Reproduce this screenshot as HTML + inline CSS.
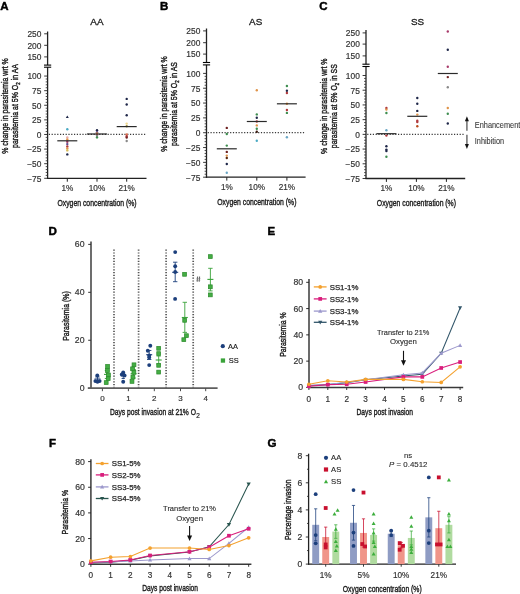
<!DOCTYPE html>
<html><head><meta charset="utf-8"><title>Figure</title>
<style>
html,body{margin:0;padding:0;background:#fff;}
body{width:520px;height:594px;overflow:hidden;}
svg{display:block;font-family:"Liberation Sans", sans-serif;will-change:transform;}
text{stroke-linejoin:round;}
</style></head><body>
<svg width="520" height="594" viewBox="0 0 520 594">
<rect x="0" y="0" width="520" height="594" fill="#fff"/>
<text x="0.3" y="10.3" font-size="11.5" fill="#000" stroke="#000" stroke-width="0.45" font-weight="bold">A</text>
<text x="96.9" y="25.4" font-size="9.9" fill="#1a1a1a" stroke="#1a1a1a" stroke-width="0.3" text-anchor="middle">AA</text>
<line x1="47.6" y1="31.5" x2="47.6" y2="65.1" stroke="#222" stroke-width="1.3"/>
<line x1="47.6" y1="67.2" x2="47.6" y2="178.9" stroke="#222" stroke-width="1.3"/>
<line x1="44" y1="65.1" x2="51.2" y2="65.1" stroke="#000" stroke-width="1.1"/>
<line x1="44" y1="67.2" x2="51.2" y2="67.2" stroke="#000" stroke-width="1.1"/>
<line x1="44.2" y1="33.8" x2="47.6" y2="33.8" stroke="#222" stroke-width="0.9"/>
<text x="41.4" y="37" font-size="8.4" fill="#333" stroke="#333" stroke-width="0.18" text-anchor="end">250</text>
<line x1="44.2" y1="45.3" x2="47.6" y2="45.3" stroke="#222" stroke-width="0.9"/>
<text x="41.4" y="48.5" font-size="8.4" fill="#333" stroke="#333" stroke-width="0.18" text-anchor="end">200</text>
<line x1="44.2" y1="56.9" x2="47.6" y2="56.9" stroke="#222" stroke-width="0.9"/>
<text x="41.4" y="60.1" font-size="8.4" fill="#333" stroke="#333" stroke-width="0.18" text-anchor="end">150</text>
<line x1="44.2" y1="76.05" x2="47.6" y2="76.05" stroke="#222" stroke-width="0.9"/>
<text x="41.4" y="79.35" font-size="8.4" fill="#333" stroke="#333" stroke-width="0.18" text-anchor="end">100</text>
<line x1="44.2" y1="90.66" x2="47.6" y2="90.66" stroke="#222" stroke-width="0.9"/>
<text x="41.4" y="93.96" font-size="8.4" fill="#333" stroke="#333" stroke-width="0.18" text-anchor="end">75</text>
<line x1="44.2" y1="105.26" x2="47.6" y2="105.26" stroke="#222" stroke-width="0.9"/>
<text x="41.4" y="108.56" font-size="8.4" fill="#333" stroke="#333" stroke-width="0.18" text-anchor="end">50</text>
<line x1="44.2" y1="119.87" x2="47.6" y2="119.87" stroke="#222" stroke-width="0.9"/>
<text x="41.4" y="123.17" font-size="8.4" fill="#333" stroke="#333" stroke-width="0.18" text-anchor="end">25</text>
<line x1="44.2" y1="134.48" x2="47.6" y2="134.48" stroke="#222" stroke-width="0.9"/>
<text x="41.4" y="137.78" font-size="8.4" fill="#333" stroke="#333" stroke-width="0.18" text-anchor="end">0</text>
<line x1="44.2" y1="149.09" x2="47.6" y2="149.09" stroke="#222" stroke-width="0.9"/>
<text x="41.4" y="152.39" font-size="8.4" fill="#333" stroke="#333" stroke-width="0.18" text-anchor="end">−25</text>
<line x1="44.2" y1="163.69" x2="47.6" y2="163.69" stroke="#222" stroke-width="0.9"/>
<text x="41.4" y="166.99" font-size="8.4" fill="#333" stroke="#333" stroke-width="0.18" text-anchor="end">−50</text>
<line x1="44.2" y1="178.3" x2="47.6" y2="178.3" stroke="#222" stroke-width="0.9"/>
<text x="41.4" y="181.6" font-size="8.4" fill="#333" stroke="#333" stroke-width="0.18" text-anchor="end">−75</text>
<line x1="45.7" y1="78.97" x2="47.6" y2="78.97" stroke="#333" stroke-width="0.85"/>
<line x1="45.7" y1="81.89" x2="47.6" y2="81.89" stroke="#333" stroke-width="0.85"/>
<line x1="45.7" y1="84.81" x2="47.6" y2="84.81" stroke="#333" stroke-width="0.85"/>
<line x1="45.7" y1="87.74" x2="47.6" y2="87.74" stroke="#333" stroke-width="0.85"/>
<line x1="45.7" y1="93.58" x2="47.6" y2="93.58" stroke="#333" stroke-width="0.85"/>
<line x1="45.7" y1="96.5" x2="47.6" y2="96.5" stroke="#333" stroke-width="0.85"/>
<line x1="45.7" y1="99.42" x2="47.6" y2="99.42" stroke="#333" stroke-width="0.85"/>
<line x1="45.7" y1="102.34" x2="47.6" y2="102.34" stroke="#333" stroke-width="0.85"/>
<line x1="45.7" y1="108.19" x2="47.6" y2="108.19" stroke="#333" stroke-width="0.85"/>
<line x1="45.7" y1="111.11" x2="47.6" y2="111.11" stroke="#333" stroke-width="0.85"/>
<line x1="45.7" y1="114.03" x2="47.6" y2="114.03" stroke="#333" stroke-width="0.85"/>
<line x1="45.7" y1="116.95" x2="47.6" y2="116.95" stroke="#333" stroke-width="0.85"/>
<line x1="45.7" y1="122.79" x2="47.6" y2="122.79" stroke="#333" stroke-width="0.85"/>
<line x1="45.7" y1="125.71" x2="47.6" y2="125.71" stroke="#333" stroke-width="0.85"/>
<line x1="45.7" y1="128.64" x2="47.6" y2="128.64" stroke="#333" stroke-width="0.85"/>
<line x1="45.7" y1="131.56" x2="47.6" y2="131.56" stroke="#333" stroke-width="0.85"/>
<line x1="45.7" y1="137.4" x2="47.6" y2="137.4" stroke="#333" stroke-width="0.85"/>
<line x1="45.7" y1="140.32" x2="47.6" y2="140.32" stroke="#333" stroke-width="0.85"/>
<line x1="45.7" y1="143.24" x2="47.6" y2="143.24" stroke="#333" stroke-width="0.85"/>
<line x1="45.7" y1="146.16" x2="47.6" y2="146.16" stroke="#333" stroke-width="0.85"/>
<line x1="45.7" y1="152.01" x2="47.6" y2="152.01" stroke="#333" stroke-width="0.85"/>
<line x1="45.7" y1="154.93" x2="47.6" y2="154.93" stroke="#333" stroke-width="0.85"/>
<line x1="45.7" y1="157.85" x2="47.6" y2="157.85" stroke="#333" stroke-width="0.85"/>
<line x1="45.7" y1="160.77" x2="47.6" y2="160.77" stroke="#333" stroke-width="0.85"/>
<line x1="45.7" y1="166.61" x2="47.6" y2="166.61" stroke="#333" stroke-width="0.85"/>
<line x1="45.7" y1="169.54" x2="47.6" y2="169.54" stroke="#333" stroke-width="0.85"/>
<line x1="45.7" y1="172.46" x2="47.6" y2="172.46" stroke="#333" stroke-width="0.85"/>
<line x1="45.7" y1="175.38" x2="47.6" y2="175.38" stroke="#333" stroke-width="0.85"/>
<line x1="47" y1="178.3" x2="146.5" y2="178.3" stroke="#222" stroke-width="1.3"/>
<line x1="67.3" y1="178.3" x2="67.3" y2="181.7" stroke="#222" stroke-width="1"/>
<text x="67.3" y="191.2" font-size="8.2" fill="#333" stroke="#333" stroke-width="0.18" text-anchor="middle">1%</text>
<line x1="97" y1="178.3" x2="97" y2="181.7" stroke="#222" stroke-width="1"/>
<text x="97" y="191.2" font-size="8.2" fill="#333" stroke="#333" stroke-width="0.18" text-anchor="middle">10%</text>
<line x1="126.7" y1="178.3" x2="126.7" y2="181.7" stroke="#222" stroke-width="1"/>
<text x="126.7" y="191.2" font-size="8.2" fill="#333" stroke="#333" stroke-width="0.18" text-anchor="middle">21%</text>
<text x="97" y="205.9" font-size="9.8" fill="#1a1a1a" stroke="#1a1a1a" stroke-width="0.4" text-anchor="middle" textLength="79.2" lengthAdjust="spacingAndGlyphs">Oxygen concentration (%)</text>
<line x1="48.8" y1="134.48" x2="146.5" y2="134.48" stroke="#3a3a3a" stroke-width="1.25" stroke-dasharray="1.2,1.6"/>
<text transform="translate(7.9,106) rotate(-90)" x="0" y="0" font-size="9.9" fill="#1a1a1a" stroke="#1a1a1a" stroke-width="0.42" text-anchor="middle" textLength="95.5" lengthAdjust="spacingAndGlyphs">% change in parasitemia wrt %</text>
<text transform="translate(17.9,106) rotate(-90)" x="0" y="0" font-size="9.9" fill="#1a1a1a" stroke="#1a1a1a" stroke-width="0.42" text-anchor="middle" textLength="84" lengthAdjust="spacingAndGlyphs">parasitemia at 5% O<tspan font-size="6.2" dy="2">2</tspan><tspan dy="-2"> in AA</tspan></text>
<polygon points="65.8,118.03 68.8,118.03 67.3,115.4" fill="#1e2648"/>
<circle cx="67.3" cy="129.2" r="1.2" fill="#4aaac4"/>
<circle cx="67.3" cy="137.4" r="1.2" fill="#e8a8a8"/>
<circle cx="67.3" cy="139.5" r="1.2" fill="#e0944a"/>
<circle cx="67.3" cy="141.7" r="1.2" fill="#a83a6a"/>
<circle cx="67.3" cy="144.1" r="1.2" fill="#5e4a8a"/>
<circle cx="67.3" cy="146.5" r="1.2" fill="#b03a3e"/>
<circle cx="67.3" cy="148.5" r="1.2" fill="#e0944a"/>
<circle cx="67.3" cy="150.4" r="1.2" fill="#d8bc58"/>
<circle cx="67.3" cy="154.4" r="1.2" fill="#1e2648"/>
<circle cx="97" cy="130.3" r="1.2" fill="#1e2648"/>
<circle cx="97" cy="132.3" r="1.2" fill="#5e4a8a"/>
<circle cx="97" cy="133.4" r="1.2" fill="#e0944a"/>
<circle cx="97" cy="134.6" r="1.2" fill="#b03a3e"/>
<circle cx="97" cy="135.8" r="1.2" fill="#8a8a8a"/>
<circle cx="97" cy="137.4" r="1.2" fill="#3e8e50"/>
<circle cx="126.7" cy="98.9" r="1.2" fill="#1e2648"/>
<circle cx="126.7" cy="104.5" r="1.2" fill="#1e2648"/>
<circle cx="126.7" cy="115.3" r="1.2" fill="#1e2648"/>
<circle cx="126.7" cy="123.6" r="1.2" fill="#f0d890"/>
<circle cx="126.7" cy="126.2" r="1.2" fill="#a09040"/>
<circle cx="126.7" cy="134.5" r="1.2" fill="#e07050"/>
<circle cx="126.7" cy="136.2" r="1.2" fill="#b03a3e"/>
<circle cx="126.7" cy="137.6" r="1.2" fill="#6e2222"/>
<circle cx="126.7" cy="141" r="1.2" fill="#8a8a8a"/>
<line x1="57.3" y1="140.8" x2="77.3" y2="140.8" stroke="#2a2a2a" stroke-width="1.2"/>
<line x1="87" y1="134" x2="107" y2="134" stroke="#2a2a2a" stroke-width="1.2"/>
<line x1="116.7" y1="126.6" x2="136.7" y2="126.6" stroke="#2a2a2a" stroke-width="1.2"/>
<text x="159.9" y="10.4" font-size="11.5" fill="#000" stroke="#000" stroke-width="0.45" font-weight="bold">B</text>
<text x="255.7" y="25" font-size="9.9" fill="#1a1a1a" stroke="#1a1a1a" stroke-width="0.3" text-anchor="middle">AS</text>
<line x1="206.5" y1="28.5" x2="206.5" y2="62.5" stroke="#222" stroke-width="1.3"/>
<line x1="206.5" y1="64.9" x2="206.5" y2="177.8" stroke="#222" stroke-width="1.3"/>
<line x1="202.9" y1="62.5" x2="210.1" y2="62.5" stroke="#000" stroke-width="1.1"/>
<line x1="202.9" y1="64.9" x2="210.1" y2="64.9" stroke="#000" stroke-width="1.1"/>
<line x1="203.1" y1="30.9" x2="206.5" y2="30.9" stroke="#222" stroke-width="0.9"/>
<text x="200.3" y="34.1" font-size="8.4" fill="#333" stroke="#333" stroke-width="0.18" text-anchor="end">250</text>
<line x1="203.1" y1="42.7" x2="206.5" y2="42.7" stroke="#222" stroke-width="0.9"/>
<text x="200.3" y="45.9" font-size="8.4" fill="#333" stroke="#333" stroke-width="0.18" text-anchor="end">200</text>
<line x1="203.1" y1="54.1" x2="206.5" y2="54.1" stroke="#222" stroke-width="0.9"/>
<text x="200.3" y="57.3" font-size="8.4" fill="#333" stroke="#333" stroke-width="0.18" text-anchor="end">150</text>
<line x1="203.1" y1="73.4" x2="206.5" y2="73.4" stroke="#222" stroke-width="0.9"/>
<text x="200.3" y="76.7" font-size="8.4" fill="#333" stroke="#333" stroke-width="0.18" text-anchor="end">100</text>
<line x1="203.1" y1="88.23" x2="206.5" y2="88.23" stroke="#222" stroke-width="0.9"/>
<text x="200.3" y="91.53" font-size="8.4" fill="#333" stroke="#333" stroke-width="0.18" text-anchor="end">75</text>
<line x1="203.1" y1="103.06" x2="206.5" y2="103.06" stroke="#222" stroke-width="0.9"/>
<text x="200.3" y="106.36" font-size="8.4" fill="#333" stroke="#333" stroke-width="0.18" text-anchor="end">50</text>
<line x1="203.1" y1="117.89" x2="206.5" y2="117.89" stroke="#222" stroke-width="0.9"/>
<text x="200.3" y="121.19" font-size="8.4" fill="#333" stroke="#333" stroke-width="0.18" text-anchor="end">25</text>
<line x1="203.1" y1="132.71" x2="206.5" y2="132.71" stroke="#222" stroke-width="0.9"/>
<text x="200.3" y="136.01" font-size="8.4" fill="#333" stroke="#333" stroke-width="0.18" text-anchor="end">0</text>
<line x1="203.1" y1="147.54" x2="206.5" y2="147.54" stroke="#222" stroke-width="0.9"/>
<text x="200.3" y="150.84" font-size="8.4" fill="#333" stroke="#333" stroke-width="0.18" text-anchor="end">−25</text>
<line x1="203.1" y1="162.37" x2="206.5" y2="162.37" stroke="#222" stroke-width="0.9"/>
<text x="200.3" y="165.67" font-size="8.4" fill="#333" stroke="#333" stroke-width="0.18" text-anchor="end">−50</text>
<line x1="203.1" y1="177.2" x2="206.5" y2="177.2" stroke="#222" stroke-width="0.9"/>
<text x="200.3" y="180.5" font-size="8.4" fill="#333" stroke="#333" stroke-width="0.18" text-anchor="end">−75</text>
<line x1="204.6" y1="76.37" x2="206.5" y2="76.37" stroke="#333" stroke-width="0.85"/>
<line x1="204.6" y1="79.33" x2="206.5" y2="79.33" stroke="#333" stroke-width="0.85"/>
<line x1="204.6" y1="82.3" x2="206.5" y2="82.3" stroke="#333" stroke-width="0.85"/>
<line x1="204.6" y1="85.26" x2="206.5" y2="85.26" stroke="#333" stroke-width="0.85"/>
<line x1="204.6" y1="91.19" x2="206.5" y2="91.19" stroke="#333" stroke-width="0.85"/>
<line x1="204.6" y1="94.16" x2="206.5" y2="94.16" stroke="#333" stroke-width="0.85"/>
<line x1="204.6" y1="97.13" x2="206.5" y2="97.13" stroke="#333" stroke-width="0.85"/>
<line x1="204.6" y1="100.09" x2="206.5" y2="100.09" stroke="#333" stroke-width="0.85"/>
<line x1="204.6" y1="106.02" x2="206.5" y2="106.02" stroke="#333" stroke-width="0.85"/>
<line x1="204.6" y1="108.99" x2="206.5" y2="108.99" stroke="#333" stroke-width="0.85"/>
<line x1="204.6" y1="111.95" x2="206.5" y2="111.95" stroke="#333" stroke-width="0.85"/>
<line x1="204.6" y1="114.92" x2="206.5" y2="114.92" stroke="#333" stroke-width="0.85"/>
<line x1="204.6" y1="120.85" x2="206.5" y2="120.85" stroke="#333" stroke-width="0.85"/>
<line x1="204.6" y1="123.82" x2="206.5" y2="123.82" stroke="#333" stroke-width="0.85"/>
<line x1="204.6" y1="126.78" x2="206.5" y2="126.78" stroke="#333" stroke-width="0.85"/>
<line x1="204.6" y1="129.75" x2="206.5" y2="129.75" stroke="#333" stroke-width="0.85"/>
<line x1="204.6" y1="135.68" x2="206.5" y2="135.68" stroke="#333" stroke-width="0.85"/>
<line x1="204.6" y1="138.65" x2="206.5" y2="138.65" stroke="#333" stroke-width="0.85"/>
<line x1="204.6" y1="141.61" x2="206.5" y2="141.61" stroke="#333" stroke-width="0.85"/>
<line x1="204.6" y1="144.58" x2="206.5" y2="144.58" stroke="#333" stroke-width="0.85"/>
<line x1="204.6" y1="150.51" x2="206.5" y2="150.51" stroke="#333" stroke-width="0.85"/>
<line x1="204.6" y1="153.47" x2="206.5" y2="153.47" stroke="#333" stroke-width="0.85"/>
<line x1="204.6" y1="156.44" x2="206.5" y2="156.44" stroke="#333" stroke-width="0.85"/>
<line x1="204.6" y1="159.41" x2="206.5" y2="159.41" stroke="#333" stroke-width="0.85"/>
<line x1="204.6" y1="165.34" x2="206.5" y2="165.34" stroke="#333" stroke-width="0.85"/>
<line x1="204.6" y1="168.3" x2="206.5" y2="168.3" stroke="#333" stroke-width="0.85"/>
<line x1="204.6" y1="171.27" x2="206.5" y2="171.27" stroke="#333" stroke-width="0.85"/>
<line x1="204.6" y1="174.23" x2="206.5" y2="174.23" stroke="#333" stroke-width="0.85"/>
<line x1="205.9" y1="177.2" x2="305.6" y2="177.2" stroke="#222" stroke-width="1.3"/>
<line x1="226.8" y1="177.2" x2="226.8" y2="180.6" stroke="#222" stroke-width="1"/>
<text x="226.8" y="190.1" font-size="8.2" fill="#333" stroke="#333" stroke-width="0.18" text-anchor="middle">1%</text>
<line x1="256.8" y1="177.2" x2="256.8" y2="180.6" stroke="#222" stroke-width="1"/>
<text x="256.8" y="190.1" font-size="8.2" fill="#333" stroke="#333" stroke-width="0.18" text-anchor="middle">10%</text>
<line x1="286.9" y1="177.2" x2="286.9" y2="180.6" stroke="#222" stroke-width="1"/>
<text x="286.9" y="190.1" font-size="8.2" fill="#333" stroke="#333" stroke-width="0.18" text-anchor="middle">21%</text>
<text x="256.85" y="204.8" font-size="9.8" fill="#1a1a1a" stroke="#1a1a1a" stroke-width="0.4" text-anchor="middle" textLength="79.2" lengthAdjust="spacingAndGlyphs">Oxygen concentration (%)</text>
<line x1="207.7" y1="132.71" x2="305.6" y2="132.71" stroke="#3a3a3a" stroke-width="1.25" stroke-dasharray="1.2,1.6"/>
<text transform="translate(167.3,104) rotate(-90)" x="0" y="0" font-size="9.9" fill="#1a1a1a" stroke="#1a1a1a" stroke-width="0.42" text-anchor="middle" textLength="95.5" lengthAdjust="spacingAndGlyphs">% change in parasitemia wrt %</text>
<text transform="translate(177.4,104) rotate(-90)" x="0" y="0" font-size="9.9" fill="#1a1a1a" stroke="#1a1a1a" stroke-width="0.42" text-anchor="middle" textLength="84" lengthAdjust="spacingAndGlyphs">parasitemia at 5% O<tspan font-size="6.2" dy="2">2</tspan><tspan dy="-2"> in AS</tspan></text>
<circle cx="226.8" cy="127.9" r="1.2" fill="#6e2222"/>
<circle cx="226.8" cy="134" r="1.2" fill="#3e8e50"/>
<circle cx="226.8" cy="145.6" r="1.2" fill="#3e8e50"/>
<circle cx="226.8" cy="151.9" r="1.2" fill="#6e2222"/>
<circle cx="226.8" cy="155.6" r="1.2" fill="#e0944a"/>
<circle cx="226.8" cy="158" r="1.2" fill="#5a2a10"/>
<circle cx="226.8" cy="164" r="1.2" fill="#1e2648"/>
<circle cx="226.8" cy="172.7" r="1.2" fill="#6aa6c4"/>
<circle cx="256.8" cy="90.2" r="1.2" fill="#e0944a"/>
<circle cx="256.8" cy="114.4" r="1.2" fill="#3e8e50"/>
<circle cx="256.8" cy="117.7" r="1.2" fill="#1e2648"/>
<circle cx="256.8" cy="121.5" r="1.2" fill="#b03a3e"/>
<circle cx="256.8" cy="125.4" r="1.2" fill="#e0944a"/>
<circle cx="256.8" cy="128.8" r="1.2" fill="#3e8e50"/>
<circle cx="256.8" cy="131.7" r="1.2" fill="#3a1a10"/>
<circle cx="256.8" cy="140.8" r="1.2" fill="#4aaac4"/>
<circle cx="286.9" cy="86" r="1.2" fill="#3e8e50"/>
<circle cx="286.9" cy="90.8" r="1.2" fill="#1e2648"/>
<circle cx="286.9" cy="93" r="1.2" fill="#b03a3e"/>
<circle cx="286.9" cy="103.8" r="1.2" fill="#e0944a"/>
<circle cx="286.9" cy="110" r="1.2" fill="#b03a3e"/>
<circle cx="286.9" cy="112.9" r="1.2" fill="#3e8e50"/>
<circle cx="286.9" cy="137.3" r="1.2" fill="#6aa6c4"/>
<line x1="216.8" y1="148.8" x2="236.8" y2="148.8" stroke="#2a2a2a" stroke-width="1.2"/>
<line x1="246.8" y1="121.5" x2="266.8" y2="121.5" stroke="#2a2a2a" stroke-width="1.2"/>
<line x1="276.9" y1="103.8" x2="296.9" y2="103.8" stroke="#2a2a2a" stroke-width="1.2"/>
<text x="319.2" y="10.4" font-size="11.5" fill="#000" stroke="#000" stroke-width="0.45" font-weight="bold">C</text>
<text x="417.5" y="25" font-size="9.9" fill="#1a1a1a" stroke="#1a1a1a" stroke-width="0.3" text-anchor="middle">SS</text>
<line x1="366" y1="30" x2="366" y2="64.2" stroke="#222" stroke-width="1.3"/>
<line x1="366" y1="66.5" x2="366" y2="179.1" stroke="#222" stroke-width="1.3"/>
<line x1="362.4" y1="64.2" x2="369.6" y2="64.2" stroke="#000" stroke-width="1.1"/>
<line x1="362.4" y1="66.5" x2="369.6" y2="66.5" stroke="#000" stroke-width="1.1"/>
<line x1="362.6" y1="32.9" x2="366" y2="32.9" stroke="#222" stroke-width="0.9"/>
<text x="359.8" y="36.1" font-size="8.4" fill="#333" stroke="#333" stroke-width="0.18" text-anchor="end">250</text>
<line x1="362.6" y1="44.1" x2="366" y2="44.1" stroke="#222" stroke-width="0.9"/>
<text x="359.8" y="47.3" font-size="8.4" fill="#333" stroke="#333" stroke-width="0.18" text-anchor="end">200</text>
<line x1="362.6" y1="55.9" x2="366" y2="55.9" stroke="#222" stroke-width="0.9"/>
<text x="359.8" y="59.1" font-size="8.4" fill="#333" stroke="#333" stroke-width="0.18" text-anchor="end">150</text>
<line x1="362.6" y1="75.5" x2="366" y2="75.5" stroke="#222" stroke-width="0.9"/>
<text x="359.8" y="78.8" font-size="8.4" fill="#333" stroke="#333" stroke-width="0.18" text-anchor="end">100</text>
<line x1="362.6" y1="90.21" x2="366" y2="90.21" stroke="#222" stroke-width="0.9"/>
<text x="359.8" y="93.51" font-size="8.4" fill="#333" stroke="#333" stroke-width="0.18" text-anchor="end">75</text>
<line x1="362.6" y1="104.93" x2="366" y2="104.93" stroke="#222" stroke-width="0.9"/>
<text x="359.8" y="108.23" font-size="8.4" fill="#333" stroke="#333" stroke-width="0.18" text-anchor="end">50</text>
<line x1="362.6" y1="119.64" x2="366" y2="119.64" stroke="#222" stroke-width="0.9"/>
<text x="359.8" y="122.94" font-size="8.4" fill="#333" stroke="#333" stroke-width="0.18" text-anchor="end">25</text>
<line x1="362.6" y1="134.36" x2="366" y2="134.36" stroke="#222" stroke-width="0.9"/>
<text x="359.8" y="137.66" font-size="8.4" fill="#333" stroke="#333" stroke-width="0.18" text-anchor="end">0</text>
<line x1="362.6" y1="149.07" x2="366" y2="149.07" stroke="#222" stroke-width="0.9"/>
<text x="359.8" y="152.37" font-size="8.4" fill="#333" stroke="#333" stroke-width="0.18" text-anchor="end">−25</text>
<line x1="362.6" y1="163.79" x2="366" y2="163.79" stroke="#222" stroke-width="0.9"/>
<text x="359.8" y="167.09" font-size="8.4" fill="#333" stroke="#333" stroke-width="0.18" text-anchor="end">−50</text>
<line x1="362.6" y1="178.5" x2="366" y2="178.5" stroke="#222" stroke-width="0.9"/>
<text x="359.8" y="181.8" font-size="8.4" fill="#333" stroke="#333" stroke-width="0.18" text-anchor="end">−75</text>
<line x1="364.1" y1="78.44" x2="366" y2="78.44" stroke="#333" stroke-width="0.85"/>
<line x1="364.1" y1="81.39" x2="366" y2="81.39" stroke="#333" stroke-width="0.85"/>
<line x1="364.1" y1="84.33" x2="366" y2="84.33" stroke="#333" stroke-width="0.85"/>
<line x1="364.1" y1="87.27" x2="366" y2="87.27" stroke="#333" stroke-width="0.85"/>
<line x1="364.1" y1="93.16" x2="366" y2="93.16" stroke="#333" stroke-width="0.85"/>
<line x1="364.1" y1="96.1" x2="366" y2="96.1" stroke="#333" stroke-width="0.85"/>
<line x1="364.1" y1="99.04" x2="366" y2="99.04" stroke="#333" stroke-width="0.85"/>
<line x1="364.1" y1="101.99" x2="366" y2="101.99" stroke="#333" stroke-width="0.85"/>
<line x1="364.1" y1="107.87" x2="366" y2="107.87" stroke="#333" stroke-width="0.85"/>
<line x1="364.1" y1="110.81" x2="366" y2="110.81" stroke="#333" stroke-width="0.85"/>
<line x1="364.1" y1="113.76" x2="366" y2="113.76" stroke="#333" stroke-width="0.85"/>
<line x1="364.1" y1="116.7" x2="366" y2="116.7" stroke="#333" stroke-width="0.85"/>
<line x1="364.1" y1="122.59" x2="366" y2="122.59" stroke="#333" stroke-width="0.85"/>
<line x1="364.1" y1="125.53" x2="366" y2="125.53" stroke="#333" stroke-width="0.85"/>
<line x1="364.1" y1="128.47" x2="366" y2="128.47" stroke="#333" stroke-width="0.85"/>
<line x1="364.1" y1="131.41" x2="366" y2="131.41" stroke="#333" stroke-width="0.85"/>
<line x1="364.1" y1="137.3" x2="366" y2="137.3" stroke="#333" stroke-width="0.85"/>
<line x1="364.1" y1="140.24" x2="366" y2="140.24" stroke="#333" stroke-width="0.85"/>
<line x1="364.1" y1="143.19" x2="366" y2="143.19" stroke="#333" stroke-width="0.85"/>
<line x1="364.1" y1="146.13" x2="366" y2="146.13" stroke="#333" stroke-width="0.85"/>
<line x1="364.1" y1="152.01" x2="366" y2="152.01" stroke="#333" stroke-width="0.85"/>
<line x1="364.1" y1="154.96" x2="366" y2="154.96" stroke="#333" stroke-width="0.85"/>
<line x1="364.1" y1="157.9" x2="366" y2="157.9" stroke="#333" stroke-width="0.85"/>
<line x1="364.1" y1="160.84" x2="366" y2="160.84" stroke="#333" stroke-width="0.85"/>
<line x1="364.1" y1="166.73" x2="366" y2="166.73" stroke="#333" stroke-width="0.85"/>
<line x1="364.1" y1="169.67" x2="366" y2="169.67" stroke="#333" stroke-width="0.85"/>
<line x1="364.1" y1="172.61" x2="366" y2="172.61" stroke="#333" stroke-width="0.85"/>
<line x1="364.1" y1="175.56" x2="366" y2="175.56" stroke="#333" stroke-width="0.85"/>
<line x1="365.4" y1="178.5" x2="465.2" y2="178.5" stroke="#222" stroke-width="1.3"/>
<line x1="386.4" y1="178.5" x2="386.4" y2="181.9" stroke="#222" stroke-width="1"/>
<text x="386.4" y="191.4" font-size="8.2" fill="#333" stroke="#333" stroke-width="0.18" text-anchor="middle">1%</text>
<line x1="416.4" y1="178.5" x2="416.4" y2="181.9" stroke="#222" stroke-width="1"/>
<text x="416.4" y="191.4" font-size="8.2" fill="#333" stroke="#333" stroke-width="0.18" text-anchor="middle">10%</text>
<line x1="446.4" y1="178.5" x2="446.4" y2="181.9" stroke="#222" stroke-width="1"/>
<text x="446.4" y="191.4" font-size="8.2" fill="#333" stroke="#333" stroke-width="0.18" text-anchor="middle">21%</text>
<text x="416.4" y="206.1" font-size="9.8" fill="#1a1a1a" stroke="#1a1a1a" stroke-width="0.4" text-anchor="middle" textLength="79.2" lengthAdjust="spacingAndGlyphs">Oxygen concentration (%)</text>
<line x1="367.2" y1="134.36" x2="465.2" y2="134.36" stroke="#3a3a3a" stroke-width="1.25" stroke-dasharray="1.2,1.6"/>
<text transform="translate(327.3,106.2) rotate(-90)" x="0" y="0" font-size="9.9" fill="#1a1a1a" stroke="#1a1a1a" stroke-width="0.42" text-anchor="middle" textLength="95.5" lengthAdjust="spacingAndGlyphs">% change in parasitemia wrt %</text>
<text transform="translate(337.2,106.2) rotate(-90)" x="0" y="0" font-size="9.9" fill="#1a1a1a" stroke="#1a1a1a" stroke-width="0.42" text-anchor="middle" textLength="84" lengthAdjust="spacingAndGlyphs">parasitemia at 5% O<tspan font-size="6.2" dy="2">2</tspan><tspan dy="-2"> in SS</tspan></text>
<circle cx="386.4" cy="108" r="1.2" fill="#b03a3e"/>
<circle cx="386.4" cy="109.6" r="1.2" fill="#e0944a"/>
<circle cx="386.4" cy="113" r="1.2" fill="#3e8e50"/>
<circle cx="386.4" cy="130.2" r="1.2" fill="#6aa6c4"/>
<circle cx="386.4" cy="135.6" r="1.2" fill="#b03a3e"/>
<circle cx="386.4" cy="146.2" r="1.2" fill="#1e2648"/>
<circle cx="386.4" cy="149.6" r="1.2" fill="#1e2648"/>
<circle cx="386.4" cy="151" r="1.2" fill="#1e2648"/>
<circle cx="386.4" cy="156.7" r="1.2" fill="#3e8e50"/>
<circle cx="417.3" cy="98" r="1.2" fill="#1e2648"/>
<circle cx="417.3" cy="103.7" r="1.2" fill="#1e2648"/>
<circle cx="417.3" cy="110.9" r="1.2" fill="#1e2648"/>
<circle cx="417.3" cy="114.6" r="1.2" fill="#e0944a"/>
<circle cx="417.3" cy="120.8" r="1.2" fill="#b03a3e"/>
<circle cx="417.3" cy="122" r="1.2" fill="#b03a3e"/>
<circle cx="417.3" cy="126.3" r="1.2" fill="#b84a1a"/>
<circle cx="447.8" cy="31.5" r="1.2" fill="#a83a6a"/>
<circle cx="447.8" cy="49.8" r="1.2" fill="#1e2648"/>
<circle cx="447.8" cy="66.7" r="1.2" fill="#a83a6a"/>
<circle cx="447.8" cy="77.1" r="1.2" fill="#6e2222"/>
<circle cx="447.8" cy="87.3" r="1.2" fill="#8a8a8a"/>
<circle cx="447.8" cy="108" r="1.2" fill="#e0944a"/>
<circle cx="447.8" cy="113.8" r="1.2" fill="#3e8e50"/>
<circle cx="447.8" cy="123.5" r="1.2" fill="#1e2648"/>
<line x1="376.4" y1="133.7" x2="396.4" y2="133.7" stroke="#2a2a2a" stroke-width="1.2"/>
<line x1="407.3" y1="116.3" x2="427.3" y2="116.3" stroke="#2a2a2a" stroke-width="1.2"/>
<line x1="437.8" y1="73.5" x2="457.8" y2="73.5" stroke="#2a2a2a" stroke-width="1.2"/>
<line x1="466.9" y1="120.5" x2="466.9" y2="130.8" stroke="#777" stroke-width="1.6"/>
<polygon points="464.9,121.2 468.9,121.2 466.9,116.2" fill="#111"/>
<line x1="466.9" y1="134.8" x2="466.9" y2="144.6" stroke="#777" stroke-width="1.6"/>
<polygon points="464.9,144.1 468.9,144.1 466.9,149" fill="#111"/>
<text x="474.8" y="127.5" font-size="8.4" fill="#3a3a3a" stroke="#3a3a3a" stroke-width="0.1" textLength="45.5" lengthAdjust="spacingAndGlyphs">Enhancement</text>
<text x="474.8" y="144.4" font-size="8.4" fill="#3a3a3a" stroke="#3a3a3a" stroke-width="0.1" textLength="29.3" lengthAdjust="spacingAndGlyphs">Inhibition</text>
<text x="48.6" y="234.8" font-size="11.6" fill="#000" stroke="#000" stroke-width="0.45" font-weight="bold">D</text>
<line x1="91" y1="241.5" x2="91" y2="389" stroke="#5e5e5e" stroke-width="1.8"/>
<line x1="88.2" y1="388.2" x2="91" y2="388.2" stroke="#333" stroke-width="1"/>
<text x="84.5" y="391.2" font-size="8.7" fill="#333" stroke="#333" stroke-width="0.18" text-anchor="end">0</text>
<line x1="88.2" y1="340.26" x2="91" y2="340.26" stroke="#333" stroke-width="1"/>
<text x="84.5" y="343.26" font-size="8.7" fill="#333" stroke="#333" stroke-width="0.18" text-anchor="end">20</text>
<line x1="88.2" y1="292.32" x2="91" y2="292.32" stroke="#333" stroke-width="1"/>
<text x="84.5" y="295.32" font-size="8.7" fill="#333" stroke="#333" stroke-width="0.18" text-anchor="end">40</text>
<line x1="88.2" y1="244.38" x2="91" y2="244.38" stroke="#333" stroke-width="1"/>
<text x="84.5" y="247.38" font-size="8.7" fill="#333" stroke="#333" stroke-width="0.18" text-anchor="end">60</text>
<line x1="87.8" y1="388.2" x2="217.6" y2="388.2" stroke="#5e5e5e" stroke-width="1.7"/>
<line x1="102.4" y1="388.2" x2="102.4" y2="391.2" stroke="#4a4a4a" stroke-width="1"/>
<text x="102.4" y="401.2" font-size="8" fill="#333" stroke="#333" stroke-width="0.18" text-anchor="middle">0</text>
<line x1="128.4" y1="388.2" x2="128.4" y2="391.2" stroke="#4a4a4a" stroke-width="1"/>
<text x="128.4" y="401.2" font-size="8" fill="#333" stroke="#333" stroke-width="0.18" text-anchor="middle">1</text>
<line x1="154.3" y1="388.2" x2="154.3" y2="391.2" stroke="#4a4a4a" stroke-width="1"/>
<text x="154.3" y="401.2" font-size="8" fill="#333" stroke="#333" stroke-width="0.18" text-anchor="middle">2</text>
<line x1="180.5" y1="388.2" x2="180.5" y2="391.2" stroke="#4a4a4a" stroke-width="1"/>
<text x="180.5" y="401.2" font-size="8" fill="#333" stroke="#333" stroke-width="0.18" text-anchor="middle">3</text>
<line x1="205.7" y1="388.2" x2="205.7" y2="391.2" stroke="#4a4a4a" stroke-width="1"/>
<text x="205.7" y="401.2" font-size="8" fill="#333" stroke="#333" stroke-width="0.18" text-anchor="middle">4</text>
<line x1="114" y1="249.6" x2="114" y2="387.4" stroke="#555" stroke-width="1.7" stroke-dasharray="1.2,1.6"/>
<line x1="138.6" y1="249.6" x2="138.6" y2="387.4" stroke="#555" stroke-width="1.7" stroke-dasharray="1.2,1.6"/>
<line x1="166.1" y1="249.6" x2="166.1" y2="387.4" stroke="#555" stroke-width="1.7" stroke-dasharray="1.2,1.6"/>
<line x1="193.2" y1="249.6" x2="193.2" y2="387.4" stroke="#555" stroke-width="1.7" stroke-dasharray="1.2,1.6"/>
<text x="109.9" y="414.9" font-size="9.6" fill="#1a1a1a" stroke="#1a1a1a" stroke-width="0.4" textLength="86" lengthAdjust="spacingAndGlyphs">Days post invasion at 21% O</text>
<text x="196.2" y="418.1" font-size="6.4" fill="#1a1a1a" stroke="#1a1a1a" stroke-width="0.18">2</text>
<text transform="translate(68.6,316) rotate(-90)" x="0" y="0" font-size="9.4" fill="#1a1a1a" stroke="#1a1a1a" stroke-width="0.4" text-anchor="middle" textLength="49.6" lengthAdjust="spacingAndGlyphs">Parasitemia (%)</text>
<circle cx="222.8" cy="346.2" r="2.1" fill="#1c3f7c"/>
<text x="228.1" y="348.9" font-size="7.4" fill="#222" stroke="#222" stroke-width="0.18">AA</text>
<rect x="220.8" y="358.4" width="4.3" height="4.3" fill="#3aa33a"/>
<text x="228.8" y="362.8" font-size="7.4" fill="#222" stroke="#222" stroke-width="0.18">SS</text>
<line x1="97.5" y1="377" x2="97.5" y2="381.8" stroke="#1c3f7c" stroke-width="0.9"/>
<line x1="95.3" y1="377" x2="99.7" y2="377" stroke="#1c3f7c" stroke-width="0.9"/>
<line x1="95.3" y1="381.8" x2="99.7" y2="381.8" stroke="#1c3f7c" stroke-width="0.9"/>
<line x1="94.5" y1="379" x2="100.5" y2="379" stroke="#1c3f7c" stroke-width="1.1"/>
<circle cx="97.3" cy="375.4" r="1.95" fill="#1c3f7c"/>
<circle cx="95.4" cy="381.1" r="1.95" fill="#1c3f7c"/>
<circle cx="99.6" cy="381.1" r="1.95" fill="#1c3f7c"/>
<circle cx="97.5" cy="381.8" r="1.95" fill="#1c3f7c"/>
<line x1="107" y1="370.5" x2="107" y2="378.5" stroke="#3aa33a" stroke-width="0.9"/>
<line x1="104.8" y1="370.5" x2="109.2" y2="370.5" stroke="#3aa33a" stroke-width="0.9"/>
<line x1="104.8" y1="378.5" x2="109.2" y2="378.5" stroke="#3aa33a" stroke-width="0.9"/>
<line x1="104" y1="374.4" x2="110" y2="374.4" stroke="#3aa33a" stroke-width="1.1"/>
<rect x="105.67" y="364.47" width="3.85" height="3.85" fill="#44ad44" stroke="#2a8a2a" stroke-width="0.7"/>
<rect x="105.48" y="368.57" width="3.85" height="3.85" fill="#44ad44" stroke="#2a8a2a" stroke-width="0.7"/>
<rect x="106.48" y="373.07" width="3.85" height="3.85" fill="#44ad44" stroke="#2a8a2a" stroke-width="0.7"/>
<rect x="106.28" y="376.77" width="3.85" height="3.85" fill="#44ad44" stroke="#2a8a2a" stroke-width="0.7"/>
<rect x="104.28" y="380.68" width="3.85" height="3.85" fill="#44ad44" stroke="#2a8a2a" stroke-width="0.7"/>
<line x1="123.2" y1="373.5" x2="123.2" y2="378.5" stroke="#1c3f7c" stroke-width="0.9"/>
<line x1="121.6" y1="373.5" x2="124.8" y2="373.5" stroke="#1c3f7c" stroke-width="0.9"/>
<line x1="121.6" y1="378.5" x2="124.8" y2="378.5" stroke="#1c3f7c" stroke-width="0.9"/>
<line x1="120.8" y1="376" x2="125.6" y2="376" stroke="#1c3f7c" stroke-width="1.1"/>
<circle cx="123.2" cy="372.4" r="1.95" fill="#1c3f7c"/>
<circle cx="121.8" cy="374.4" r="1.95" fill="#1c3f7c"/>
<circle cx="124.6" cy="375.5" r="1.95" fill="#1c3f7c"/>
<circle cx="123.2" cy="381.8" r="1.95" fill="#1c3f7c"/>
<line x1="133.6" y1="369.5" x2="133.6" y2="378" stroke="#3aa33a" stroke-width="0.9"/>
<line x1="131.4" y1="369.5" x2="135.8" y2="369.5" stroke="#3aa33a" stroke-width="0.9"/>
<line x1="131.4" y1="378" x2="135.8" y2="378" stroke="#3aa33a" stroke-width="0.9"/>
<line x1="130.6" y1="373.7" x2="136.6" y2="373.7" stroke="#3aa33a" stroke-width="1.1"/>
<rect x="132.07" y="362.88" width="3.85" height="3.85" fill="#44ad44" stroke="#2a8a2a" stroke-width="0.7"/>
<rect x="130.67" y="366.88" width="3.85" height="3.85" fill="#44ad44" stroke="#2a8a2a" stroke-width="0.7"/>
<rect x="131.97" y="370.38" width="3.85" height="3.85" fill="#44ad44" stroke="#2a8a2a" stroke-width="0.7"/>
<rect x="130.97" y="375.07" width="3.85" height="3.85" fill="#44ad44" stroke="#2a8a2a" stroke-width="0.7"/>
<rect x="130.07" y="379.47" width="3.85" height="3.85" fill="#44ad44" stroke="#2a8a2a" stroke-width="0.7"/>
<line x1="149.2" y1="350.5" x2="149.2" y2="359.5" stroke="#1c3f7c" stroke-width="0.9"/>
<line x1="147" y1="350.5" x2="151.4" y2="350.5" stroke="#1c3f7c" stroke-width="0.9"/>
<line x1="147" y1="359.5" x2="151.4" y2="359.5" stroke="#1c3f7c" stroke-width="0.9"/>
<line x1="146.2" y1="354.7" x2="152.2" y2="354.7" stroke="#1c3f7c" stroke-width="1.1"/>
<circle cx="150.3" cy="345.8" r="1.95" fill="#1c3f7c"/>
<circle cx="147.8" cy="350.8" r="1.95" fill="#1c3f7c"/>
<circle cx="149.2" cy="355.5" r="1.95" fill="#1c3f7c"/>
<circle cx="149.2" cy="357.4" r="1.95" fill="#1c3f7c"/>
<circle cx="149.2" cy="365.1" r="1.95" fill="#1c3f7c"/>
<line x1="158.7" y1="356" x2="158.7" y2="364" stroke="#3aa33a" stroke-width="0.9"/>
<line x1="156.5" y1="356" x2="160.9" y2="356" stroke="#3aa33a" stroke-width="0.9"/>
<line x1="156.5" y1="364" x2="160.9" y2="364" stroke="#3aa33a" stroke-width="0.9"/>
<line x1="155.7" y1="360" x2="161.7" y2="360" stroke="#3aa33a" stroke-width="1.1"/>
<rect x="156.77" y="346.38" width="3.85" height="3.85" fill="#44ad44" stroke="#2a8a2a" stroke-width="0.7"/>
<rect x="156.77" y="351.68" width="3.85" height="3.85" fill="#44ad44" stroke="#2a8a2a" stroke-width="0.7"/>
<rect x="156.77" y="363.38" width="3.85" height="3.85" fill="#44ad44" stroke="#2a8a2a" stroke-width="0.7"/>
<rect x="156.77" y="370.18" width="3.85" height="3.85" fill="#44ad44" stroke="#2a8a2a" stroke-width="0.7"/>
<line x1="175.2" y1="262.2" x2="175.2" y2="281.7" stroke="#1c3f7c" stroke-width="0.9"/>
<line x1="173" y1="262.2" x2="177.4" y2="262.2" stroke="#1c3f7c" stroke-width="0.9"/>
<line x1="173" y1="281.7" x2="177.4" y2="281.7" stroke="#1c3f7c" stroke-width="0.9"/>
<line x1="172.2" y1="272.3" x2="178.2" y2="272.3" stroke="#1c3f7c" stroke-width="1.1"/>
<circle cx="175.2" cy="252.1" r="1.95" fill="#1c3f7c"/>
<circle cx="175.2" cy="266.2" r="1.95" fill="#1c3f7c"/>
<circle cx="175.2" cy="272" r="1.95" fill="#1c3f7c"/>
<circle cx="175.1" cy="298.9" r="1.95" fill="#1c3f7c"/>
<line x1="184.8" y1="302.3" x2="184.8" y2="332.4" stroke="#3aa33a" stroke-width="0.9"/>
<line x1="182.6" y1="302.3" x2="187" y2="302.3" stroke="#3aa33a" stroke-width="0.9"/>
<line x1="182.6" y1="332.4" x2="187" y2="332.4" stroke="#3aa33a" stroke-width="0.9"/>
<line x1="181.8" y1="317.5" x2="187.8" y2="317.5" stroke="#3aa33a" stroke-width="1.1"/>
<rect x="182.67" y="272.38" width="3.85" height="3.85" fill="#44ad44" stroke="#2a8a2a" stroke-width="0.7"/>
<rect x="182.77" y="318.38" width="3.85" height="3.85" fill="#44ad44" stroke="#2a8a2a" stroke-width="0.7"/>
<rect x="184.47" y="333.77" width="3.85" height="3.85" fill="#44ad44" stroke="#2a8a2a" stroke-width="0.7"/>
<rect x="181.88" y="337.77" width="3.85" height="3.85" fill="#44ad44" stroke="#2a8a2a" stroke-width="0.7"/>
<line x1="197.6" y1="276.5" x2="197.2" y2="281.8" stroke="#555" stroke-width="0.9"/>
<line x1="199.6" y1="276.5" x2="199.2" y2="281.8" stroke="#555" stroke-width="0.9"/>
<line x1="196.4" y1="278.3" x2="200.5" y2="278.3" stroke="#777" stroke-width="0.6"/>
<line x1="196.2" y1="280.2" x2="200.3" y2="280.2" stroke="#777" stroke-width="0.6"/>
<line x1="210.4" y1="268.3" x2="210.4" y2="290.9" stroke="#3aa33a" stroke-width="0.9"/>
<line x1="208.2" y1="268.3" x2="212.6" y2="268.3" stroke="#3aa33a" stroke-width="0.9"/>
<line x1="208.2" y1="290.9" x2="212.6" y2="290.9" stroke="#3aa33a" stroke-width="0.9"/>
<line x1="207.4" y1="279.4" x2="213.4" y2="279.4" stroke="#3aa33a" stroke-width="1.1"/>
<rect x="208.38" y="254.68" width="3.85" height="3.85" fill="#44ad44" stroke="#2a8a2a" stroke-width="0.7"/>
<rect x="208.38" y="284.88" width="3.85" height="3.85" fill="#44ad44" stroke="#2a8a2a" stroke-width="0.7"/>
<rect x="208.38" y="292.97" width="3.85" height="3.85" fill="#44ad44" stroke="#2a8a2a" stroke-width="0.7"/>
<text x="267.6" y="234.5" font-size="11.5" fill="#000" stroke="#000" stroke-width="0.45" font-weight="bold">E</text>
<line x1="309" y1="279" x2="309" y2="388.1" stroke="#3a3a3a" stroke-width="1.5"/>
<line x1="306.2" y1="387.4" x2="309" y2="387.4" stroke="#222" stroke-width="0.95"/>
<text x="303.2" y="390.4" font-size="8.7" fill="#333" stroke="#333" stroke-width="0.18" text-anchor="end">0</text>
<line x1="306.2" y1="361.13" x2="309" y2="361.13" stroke="#222" stroke-width="0.95"/>
<text x="303.2" y="364.13" font-size="8.7" fill="#333" stroke="#333" stroke-width="0.18" text-anchor="end">20</text>
<line x1="306.2" y1="334.86" x2="309" y2="334.86" stroke="#222" stroke-width="0.95"/>
<text x="303.2" y="337.86" font-size="8.7" fill="#333" stroke="#333" stroke-width="0.18" text-anchor="end">40</text>
<line x1="306.2" y1="308.59" x2="309" y2="308.59" stroke="#222" stroke-width="0.95"/>
<text x="303.2" y="311.59" font-size="8.7" fill="#333" stroke="#333" stroke-width="0.18" text-anchor="end">60</text>
<line x1="306.2" y1="282.32" x2="309" y2="282.32" stroke="#222" stroke-width="0.95"/>
<text x="303.2" y="285.32" font-size="8.7" fill="#333" stroke="#333" stroke-width="0.18" text-anchor="end">80</text>
<line x1="308.3" y1="387.4" x2="463.2" y2="387.4" stroke="#3a3a3a" stroke-width="1.5"/>
<line x1="308.9" y1="387.4" x2="308.9" y2="390" stroke="#222" stroke-width="0.9"/>
<text x="308.9" y="401.6" font-size="8.2" fill="#333" stroke="#333" stroke-width="0.18" text-anchor="middle">0</text>
<line x1="327.8" y1="387.4" x2="327.8" y2="390" stroke="#222" stroke-width="0.9"/>
<text x="327.8" y="401.6" font-size="8.2" fill="#333" stroke="#333" stroke-width="0.18" text-anchor="middle">1</text>
<line x1="346.7" y1="387.4" x2="346.7" y2="390" stroke="#222" stroke-width="0.9"/>
<text x="346.7" y="401.6" font-size="8.2" fill="#333" stroke="#333" stroke-width="0.18" text-anchor="middle">2</text>
<line x1="365.6" y1="387.4" x2="365.6" y2="390" stroke="#222" stroke-width="0.9"/>
<text x="365.6" y="401.6" font-size="8.2" fill="#333" stroke="#333" stroke-width="0.18" text-anchor="middle">3</text>
<line x1="384.5" y1="387.4" x2="384.5" y2="390" stroke="#222" stroke-width="0.9"/>
<text x="384.5" y="401.6" font-size="8.2" fill="#333" stroke="#333" stroke-width="0.18" text-anchor="middle">4</text>
<line x1="403.4" y1="387.4" x2="403.4" y2="390" stroke="#222" stroke-width="0.9"/>
<text x="403.4" y="401.6" font-size="8.2" fill="#333" stroke="#333" stroke-width="0.18" text-anchor="middle">5</text>
<line x1="422.3" y1="387.4" x2="422.3" y2="390" stroke="#222" stroke-width="0.9"/>
<text x="422.3" y="401.6" font-size="8.2" fill="#333" stroke="#333" stroke-width="0.18" text-anchor="middle">6</text>
<line x1="441.2" y1="387.4" x2="441.2" y2="390" stroke="#222" stroke-width="0.9"/>
<text x="441.2" y="401.6" font-size="8.2" fill="#333" stroke="#333" stroke-width="0.18" text-anchor="middle">7</text>
<line x1="460.1" y1="387.4" x2="460.1" y2="390" stroke="#222" stroke-width="0.9"/>
<text x="460.1" y="401.6" font-size="8.2" fill="#333" stroke="#333" stroke-width="0.18" text-anchor="middle">8</text>
<text x="356.5" y="414.7" font-size="9.6" fill="#1a1a1a" stroke="#1a1a1a" stroke-width="0.4" textLength="56.5" lengthAdjust="spacingAndGlyphs">Days post invasion</text>
<text transform="translate(286.2,334.5) rotate(-90)" x="0" y="0" font-size="9.4" fill="#1a1a1a" stroke="#1a1a1a" stroke-width="0.4" text-anchor="middle" textLength="44.5" lengthAdjust="spacingAndGlyphs">Parasitemia %</text>
<polyline points="308.9,385.82 327.8,384.64 346.7,382.67 365.6,379.78 403.4,376.1 422.3,374.26 441.2,353.25 460.1,307.93" fill="none" stroke="#32566a" stroke-width="1.05"/>
<polygon points="306.8,384.25 311,384.25 308.9,387.92" fill="#32566a"/>
<polygon points="325.7,383.07 329.9,383.07 327.8,386.74" fill="#32566a"/>
<polygon points="344.6,381.1 348.8,381.1 346.7,384.77" fill="#32566a"/>
<polygon points="363.5,378.21 367.7,378.21 365.6,381.88" fill="#32566a"/>
<polygon points="401.3,374.53 405.5,374.53 403.4,378.2" fill="#32566a"/>
<polygon points="420.2,372.69 424.4,372.69 422.3,376.37" fill="#32566a"/>
<polygon points="439.1,351.67 443.3,351.67 441.2,355.35" fill="#32566a"/>
<polygon points="458,306.36 462.2,306.36 460.1,310.03" fill="#32566a"/>
<polyline points="308.9,385.3 327.8,384.51 346.7,382.15 365.6,379.78 403.4,374.79 422.3,372.95 441.2,353.25 460.1,345.37" fill="none" stroke="#9c98cc" stroke-width="1.05"/>
<polygon points="306.8,386.87 311,386.87 308.9,383.2" fill="#9c98cc"/>
<polygon points="325.7,386.09 329.9,386.09 327.8,382.41" fill="#9c98cc"/>
<polygon points="344.6,383.72 348.8,383.72 346.7,380.05" fill="#9c98cc"/>
<polygon points="363.5,381.36 367.7,381.36 365.6,377.68" fill="#9c98cc"/>
<polygon points="401.3,376.37 405.5,376.37 403.4,372.69" fill="#9c98cc"/>
<polygon points="420.2,374.53 424.4,374.53 422.3,370.85" fill="#9c98cc"/>
<polygon points="439.1,354.82 443.3,354.82 441.2,351.15" fill="#9c98cc"/>
<polygon points="458,346.94 462.2,346.94 460.1,343.27" fill="#9c98cc"/>
<polyline points="308.9,386.22 327.8,384.64 346.7,384.25 365.6,382.01 403.4,376.89 422.3,376.89 441.2,367.96 460.1,362.05" fill="none" stroke="#d91e7c" stroke-width="1.05"/>
<rect x="307.05" y="384.37" width="3.7" height="3.7" fill="#d91e7c"/>
<rect x="325.95" y="382.79" width="3.7" height="3.7" fill="#d91e7c"/>
<rect x="344.85" y="382.4" width="3.7" height="3.7" fill="#d91e7c"/>
<rect x="363.75" y="380.16" width="3.7" height="3.7" fill="#d91e7c"/>
<rect x="401.55" y="375.04" width="3.7" height="3.7" fill="#d91e7c"/>
<rect x="420.45" y="375.04" width="3.7" height="3.7" fill="#d91e7c"/>
<rect x="439.35" y="366.11" width="3.7" height="3.7" fill="#d91e7c"/>
<rect x="458.25" y="360.2" width="3.7" height="3.7" fill="#d91e7c"/>
<polyline points="308.9,384.25 327.8,380.83 346.7,382.01 365.6,379.39 403.4,379.39 422.3,381.75 441.2,382.41 460.1,366.78" fill="none" stroke="#f4a12e" stroke-width="1.05"/>
<circle cx="308.9" cy="384.25" r="1.85" fill="#f4a12e"/>
<circle cx="327.8" cy="380.83" r="1.85" fill="#f4a12e"/>
<circle cx="346.7" cy="382.01" r="1.85" fill="#f4a12e"/>
<circle cx="365.6" cy="379.39" r="1.85" fill="#f4a12e"/>
<circle cx="403.4" cy="379.39" r="1.85" fill="#f4a12e"/>
<circle cx="422.3" cy="381.75" r="1.85" fill="#f4a12e"/>
<circle cx="441.2" cy="382.41" r="1.85" fill="#f4a12e"/>
<circle cx="460.1" cy="366.78" r="1.85" fill="#f4a12e"/>
<line x1="313.8" y1="286.9" x2="326.6" y2="286.9" stroke="#f4a12e" stroke-width="1.3"/>
<circle cx="320.2" cy="286.9" r="1.85" fill="#f4a12e"/>
<text x="329.7" y="289.7" font-size="7.7" fill="#222" stroke="#222" stroke-width="0.25" textLength="28.7" lengthAdjust="spacingAndGlyphs">SS1-1%</text>
<line x1="313.8" y1="298.9" x2="326.6" y2="298.9" stroke="#d91e7c" stroke-width="1.3"/>
<rect x="318.35" y="297.05" width="3.7" height="3.7" fill="#d91e7c"/>
<text x="329.7" y="301.7" font-size="7.7" fill="#222" stroke="#222" stroke-width="0.25" textLength="28.7" lengthAdjust="spacingAndGlyphs">SS2-1%</text>
<line x1="313.8" y1="311.1" x2="326.6" y2="311.1" stroke="#9c98cc" stroke-width="1.3"/>
<polygon points="318.1,312.68 322.3,312.68 320.2,309" fill="#9c98cc"/>
<text x="329.7" y="313.9" font-size="7.7" fill="#222" stroke="#222" stroke-width="0.25" textLength="28.7" lengthAdjust="spacingAndGlyphs">SS3-1%</text>
<line x1="313.8" y1="322.3" x2="326.6" y2="322.3" stroke="#32566a" stroke-width="1.3"/>
<polygon points="318.1,320.73 322.3,320.73 320.2,324.4" fill="#32566a"/>
<text x="329.7" y="325.1" font-size="7.7" fill="#222" stroke="#222" stroke-width="0.25" textLength="28.7" lengthAdjust="spacingAndGlyphs">SS4-1%</text>
<text x="377.1" y="335" font-size="7.8" fill="#2a2a2a" stroke="#2a2a2a" stroke-width="0.12" textLength="52.3" lengthAdjust="spacingAndGlyphs">Transfer to 21%</text>
<text x="403.4" y="344.3" font-size="7.8" fill="#2a2a2a" stroke="#2a2a2a" stroke-width="0.12" text-anchor="middle">Oxygen</text>
<line x1="403.5" y1="350.8" x2="403.5" y2="361.7" stroke="#111" stroke-width="1.1"/>
<polygon points="401,360.3 406,360.3 403.5,365.7" fill="#111"/>
<text x="48.9" y="446.7" font-size="11.5" fill="#000" stroke="#000" stroke-width="0.45" font-weight="bold">F</text>
<line x1="90.9" y1="459.2" x2="90.9" y2="564.9" stroke="#3a3a3a" stroke-width="1.5"/>
<line x1="88.1" y1="564.2" x2="90.9" y2="564.2" stroke="#222" stroke-width="0.95"/>
<text x="84.8" y="567.2" font-size="8.7" fill="#333" stroke="#333" stroke-width="0.18" text-anchor="end">0</text>
<line x1="88.1" y1="538.55" x2="90.9" y2="538.55" stroke="#222" stroke-width="0.95"/>
<text x="84.8" y="541.55" font-size="8.7" fill="#333" stroke="#333" stroke-width="0.18" text-anchor="end">20</text>
<line x1="88.1" y1="512.9" x2="90.9" y2="512.9" stroke="#222" stroke-width="0.95"/>
<text x="84.8" y="515.9" font-size="8.7" fill="#333" stroke="#333" stroke-width="0.18" text-anchor="end">40</text>
<line x1="88.1" y1="487.25" x2="90.9" y2="487.25" stroke="#222" stroke-width="0.95"/>
<text x="84.8" y="490.25" font-size="8.7" fill="#333" stroke="#333" stroke-width="0.18" text-anchor="end">60</text>
<line x1="88.1" y1="461.6" x2="90.9" y2="461.6" stroke="#222" stroke-width="0.95"/>
<text x="84.8" y="464.6" font-size="8.7" fill="#333" stroke="#333" stroke-width="0.18" text-anchor="end">80</text>
<line x1="90.2" y1="564.2" x2="251.4" y2="564.2" stroke="#3a3a3a" stroke-width="1.5"/>
<line x1="90.9" y1="564.2" x2="90.9" y2="566.8" stroke="#222" stroke-width="0.9"/>
<text x="90.9" y="577.6" font-size="8.2" fill="#333" stroke="#333" stroke-width="0.18" text-anchor="middle">0</text>
<line x1="110.62" y1="564.2" x2="110.62" y2="566.8" stroke="#222" stroke-width="0.9"/>
<text x="110.62" y="577.6" font-size="8.2" fill="#333" stroke="#333" stroke-width="0.18" text-anchor="middle">1</text>
<line x1="130.34" y1="564.2" x2="130.34" y2="566.8" stroke="#222" stroke-width="0.9"/>
<text x="130.34" y="577.6" font-size="8.2" fill="#333" stroke="#333" stroke-width="0.18" text-anchor="middle">2</text>
<line x1="150.06" y1="564.2" x2="150.06" y2="566.8" stroke="#222" stroke-width="0.9"/>
<text x="150.06" y="577.6" font-size="8.2" fill="#333" stroke="#333" stroke-width="0.18" text-anchor="middle">3</text>
<line x1="169.78" y1="564.2" x2="169.78" y2="566.8" stroke="#222" stroke-width="0.9"/>
<text x="169.78" y="577.6" font-size="8.2" fill="#333" stroke="#333" stroke-width="0.18" text-anchor="middle">4</text>
<line x1="189.5" y1="564.2" x2="189.5" y2="566.8" stroke="#222" stroke-width="0.9"/>
<text x="189.5" y="577.6" font-size="8.2" fill="#333" stroke="#333" stroke-width="0.18" text-anchor="middle">5</text>
<line x1="209.22" y1="564.2" x2="209.22" y2="566.8" stroke="#222" stroke-width="0.9"/>
<text x="209.22" y="577.6" font-size="8.2" fill="#333" stroke="#333" stroke-width="0.18" text-anchor="middle">6</text>
<line x1="228.94" y1="564.2" x2="228.94" y2="566.8" stroke="#222" stroke-width="0.9"/>
<text x="228.94" y="577.6" font-size="8.2" fill="#333" stroke="#333" stroke-width="0.18" text-anchor="middle">7</text>
<line x1="248.66" y1="564.2" x2="248.66" y2="566.8" stroke="#222" stroke-width="0.9"/>
<text x="248.66" y="577.6" font-size="8.2" fill="#333" stroke="#333" stroke-width="0.18" text-anchor="middle">8</text>
<text x="142.3" y="591.2" font-size="9.6" fill="#1a1a1a" stroke="#1a1a1a" stroke-width="0.4" textLength="55.7" lengthAdjust="spacingAndGlyphs">Days post invasion</text>
<text transform="translate(68,512.2) rotate(-90)" x="0" y="0" font-size="9.4" fill="#1a1a1a" stroke="#1a1a1a" stroke-width="0.4" text-anchor="middle" textLength="44.5" lengthAdjust="spacingAndGlyphs">Parasitemia %</text>
<polyline points="90.9,562.92 110.62,562.15 130.34,560.35 150.06,555.99 189.5,552.02 209.22,546.76 228.94,524.57 248.66,484.04" fill="none" stroke="#28544e" stroke-width="1.05"/>
<polygon points="88.8,561.34 93,561.34 90.9,565.02" fill="#28544e"/>
<polygon points="108.52,560.57 112.72,560.57 110.62,564.25" fill="#28544e"/>
<polygon points="128.24,558.78 132.44,558.78 130.34,562.45" fill="#28544e"/>
<polygon points="147.96,554.42 152.16,554.42 150.06,558.09" fill="#28544e"/>
<polygon points="187.4,550.44 191.6,550.44 189.5,554.12" fill="#28544e"/>
<polygon points="207.12,545.18 211.32,545.18 209.22,548.86" fill="#28544e"/>
<polygon points="226.84,523 231.04,523 228.94,526.67" fill="#28544e"/>
<polygon points="246.56,482.47 250.76,482.47 248.66,486.14" fill="#28544e"/>
<polyline points="90.9,562.53 110.62,561.89 130.34,560.99 150.06,559.97 189.5,558.56 209.22,558.56 228.94,543.42 248.66,527.26" fill="none" stroke="#9c98cc" stroke-width="1.05"/>
<polygon points="88.8,564.11 93,564.11 90.9,560.43" fill="#9c98cc"/>
<polygon points="108.52,563.47 112.72,563.47 110.62,559.79" fill="#9c98cc"/>
<polygon points="128.24,562.57 132.44,562.57 130.34,558.89" fill="#9c98cc"/>
<polygon points="147.96,561.54 152.16,561.54 150.06,557.87" fill="#9c98cc"/>
<polygon points="187.4,560.13 191.6,560.13 189.5,556.46" fill="#9c98cc"/>
<polygon points="207.12,560.13 211.32,560.13 209.22,556.46" fill="#9c98cc"/>
<polygon points="226.84,545 231.04,545 228.94,541.32" fill="#9c98cc"/>
<polygon points="246.56,528.84 250.76,528.84 248.66,525.16" fill="#9c98cc"/>
<polyline points="90.9,562.28 110.62,561.51 130.34,559.97 150.06,555.48 189.5,551.76 209.22,547.14 228.94,535.73 248.66,528.8" fill="none" stroke="#d91e7c" stroke-width="1.05"/>
<rect x="89.05" y="560.43" width="3.7" height="3.7" fill="#d91e7c"/>
<rect x="108.77" y="559.66" width="3.7" height="3.7" fill="#d91e7c"/>
<rect x="128.49" y="558.12" width="3.7" height="3.7" fill="#d91e7c"/>
<rect x="148.21" y="553.63" width="3.7" height="3.7" fill="#d91e7c"/>
<rect x="187.65" y="549.91" width="3.7" height="3.7" fill="#d91e7c"/>
<rect x="207.37" y="545.29" width="3.7" height="3.7" fill="#d91e7c"/>
<rect x="227.09" y="533.88" width="3.7" height="3.7" fill="#d91e7c"/>
<rect x="246.81" y="526.95" width="3.7" height="3.7" fill="#d91e7c"/>
<polyline points="90.9,560.87 110.62,557.15 130.34,556.5 150.06,548.04 189.5,548.04 209.22,549.45 228.94,545.6 248.66,537.78" fill="none" stroke="#f4a12e" stroke-width="1.05"/>
<circle cx="90.9" cy="560.87" r="1.85" fill="#f4a12e"/>
<circle cx="110.62" cy="557.15" r="1.85" fill="#f4a12e"/>
<circle cx="130.34" cy="556.5" r="1.85" fill="#f4a12e"/>
<circle cx="150.06" cy="548.04" r="1.85" fill="#f4a12e"/>
<circle cx="189.5" cy="548.04" r="1.85" fill="#f4a12e"/>
<circle cx="209.22" cy="549.45" r="1.85" fill="#f4a12e"/>
<circle cx="228.94" cy="545.6" r="1.85" fill="#f4a12e"/>
<circle cx="248.66" cy="537.78" r="1.85" fill="#f4a12e"/>
<line x1="95.8" y1="463.5" x2="108.5" y2="463.5" stroke="#f4a12e" stroke-width="1.3"/>
<circle cx="102.15" cy="463.5" r="1.85" fill="#f4a12e"/>
<text x="111.8" y="466.3" font-size="7.7" fill="#222" stroke="#222" stroke-width="0.25" textLength="28.7" lengthAdjust="spacingAndGlyphs">SS1-5%</text>
<line x1="95.8" y1="474.9" x2="108.5" y2="474.9" stroke="#d91e7c" stroke-width="1.3"/>
<rect x="100.3" y="473.05" width="3.7" height="3.7" fill="#d91e7c"/>
<text x="111.8" y="477.7" font-size="7.7" fill="#222" stroke="#222" stroke-width="0.25" textLength="28.7" lengthAdjust="spacingAndGlyphs">SS2-5%</text>
<line x1="95.8" y1="486.9" x2="108.5" y2="486.9" stroke="#9c98cc" stroke-width="1.3"/>
<polygon points="100.05,488.47 104.25,488.47 102.15,484.8" fill="#9c98cc"/>
<text x="111.8" y="489.7" font-size="7.7" fill="#222" stroke="#222" stroke-width="0.25" textLength="28.7" lengthAdjust="spacingAndGlyphs">SS3-5%</text>
<line x1="95.8" y1="498.5" x2="108.5" y2="498.5" stroke="#28544e" stroke-width="1.3"/>
<polygon points="100.05,496.93 104.25,496.93 102.15,500.6" fill="#28544e"/>
<text x="111.8" y="501.3" font-size="7.7" fill="#222" stroke="#222" stroke-width="0.25" textLength="28.7" lengthAdjust="spacingAndGlyphs">SS4-5%</text>
<text x="163.1" y="511.1" font-size="7.8" fill="#2a2a2a" stroke="#2a2a2a" stroke-width="0.12" textLength="52.9" lengthAdjust="spacingAndGlyphs">Transfer to 21%</text>
<text x="189.6" y="520.5" font-size="7.8" fill="#2a2a2a" stroke="#2a2a2a" stroke-width="0.12" text-anchor="middle">Oxygen</text>
<line x1="189.6" y1="526" x2="189.6" y2="537" stroke="#111" stroke-width="1.1"/>
<polygon points="187.1,535.6 192.1,535.6 189.6,541" fill="#111"/>
<text x="267.5" y="446.6" font-size="11.6" fill="#000" stroke="#000" stroke-width="0.45" font-weight="bold">G</text>
<line x1="308.6" y1="453.7" x2="308.6" y2="564.7" stroke="#222" stroke-width="1.3"/>
<line x1="305.8" y1="564.1" x2="308.6" y2="564.1" stroke="#222" stroke-width="0.9"/>
<text x="302.2" y="567.1" font-size="8.6" fill="#333" stroke="#333" stroke-width="0.18" text-anchor="end">0</text>
<line x1="307" y1="550.55" x2="308.6" y2="550.55" stroke="#222" stroke-width="0.8"/>
<line x1="305.8" y1="537" x2="308.6" y2="537" stroke="#222" stroke-width="0.9"/>
<text x="302.2" y="540" font-size="8.6" fill="#333" stroke="#333" stroke-width="0.18" text-anchor="end">2</text>
<line x1="307" y1="523.45" x2="308.6" y2="523.45" stroke="#222" stroke-width="0.8"/>
<line x1="305.8" y1="509.9" x2="308.6" y2="509.9" stroke="#222" stroke-width="0.9"/>
<text x="302.2" y="512.9" font-size="8.6" fill="#333" stroke="#333" stroke-width="0.18" text-anchor="end">4</text>
<line x1="307" y1="496.35" x2="308.6" y2="496.35" stroke="#222" stroke-width="0.8"/>
<line x1="305.8" y1="482.8" x2="308.6" y2="482.8" stroke="#222" stroke-width="0.9"/>
<text x="302.2" y="485.8" font-size="8.6" fill="#333" stroke="#333" stroke-width="0.18" text-anchor="end">6</text>
<line x1="307" y1="469.25" x2="308.6" y2="469.25" stroke="#222" stroke-width="0.8"/>
<line x1="305.8" y1="455.7" x2="308.6" y2="455.7" stroke="#222" stroke-width="0.9"/>
<text x="302.2" y="458.7" font-size="8.6" fill="#333" stroke="#333" stroke-width="0.18" text-anchor="end">8</text>
<line x1="308" y1="564.1" x2="456" y2="564.1" stroke="#222" stroke-width="1.3"/>
<line x1="325.7" y1="564.1" x2="325.7" y2="566.7" stroke="#222" stroke-width="0.9"/>
<text x="325.7" y="577.9" font-size="8.2" fill="#333" stroke="#333" stroke-width="0.18" text-anchor="middle">1%</text>
<rect x="312.25" y="524.81" width="6.9" height="39.3" fill="#8f9cc4"/>
<line x1="315.7" y1="508.82" x2="315.7" y2="540.79" stroke="#1c3f7c" stroke-width="0.9" opacity="0.85"/>
<line x1="314.1" y1="508.82" x2="317.3" y2="508.82" stroke="#1c3f7c" stroke-width="0.9" opacity="0.85"/>
<line x1="314.1" y1="540.79" x2="317.3" y2="540.79" stroke="#1c3f7c" stroke-width="0.9" opacity="0.85"/>
<circle cx="315.7" cy="494.18" r="1.9" fill="#1c3f7c"/>
<circle cx="315.7" cy="535.1" r="1.9" fill="#1c3f7c"/>
<circle cx="315.7" cy="543.37" r="1.9" fill="#1c3f7c"/>
<rect x="322.25" y="537" width="6.9" height="27.1" fill="#f09589"/>
<line x1="325.7" y1="527.11" x2="325.7" y2="546.89" stroke="#c8102e" stroke-width="0.9" opacity="0.85"/>
<line x1="324.1" y1="527.11" x2="327.3" y2="527.11" stroke="#c8102e" stroke-width="0.9" opacity="0.85"/>
<line x1="324.1" y1="546.89" x2="327.3" y2="546.89" stroke="#c8102e" stroke-width="0.9" opacity="0.85"/>
<rect x="323.8" y="506.1" width="3.8" height="3.8" fill="#c8102e"/>
<rect x="323.8" y="542.55" width="3.8" height="3.8" fill="#c8102e"/>
<rect x="323.8" y="545.53" width="3.8" height="3.8" fill="#c8102e"/>
<rect x="332.35" y="531.58" width="6.9" height="32.52" fill="#b0dba0"/>
<line x1="335.8" y1="524.81" x2="335.8" y2="538.36" stroke="#3cae3c" stroke-width="0.9" opacity="0.85"/>
<line x1="334.2" y1="524.81" x2="337.4" y2="524.81" stroke="#3cae3c" stroke-width="0.9" opacity="0.85"/>
<line x1="334.2" y1="538.36" x2="337.4" y2="538.36" stroke="#3cae3c" stroke-width="0.9" opacity="0.85"/>
<polygon points="332.5,515.6 336.5,515.6 334.5,512.1" fill="#3cae3c"/>
<polygon points="335.6,511.81 339.6,511.81 337.6,508.31" fill="#3cae3c"/>
<polygon points="333.8,530.78 337.8,530.78 335.8,527.28" fill="#3cae3c"/>
<polygon points="333.8,543.11 337.8,543.11 335.8,539.61" fill="#3cae3c"/>
<polygon points="334.8,547.44 338.8,547.44 336.8,543.94" fill="#3cae3c"/>
<polygon points="333.8,552.05 337.8,552.05 335.8,548.55" fill="#3cae3c"/>
<line x1="363.5" y1="564.1" x2="363.5" y2="566.7" stroke="#222" stroke-width="0.9"/>
<text x="363.5" y="577.9" font-size="8.2" fill="#333" stroke="#333" stroke-width="0.18" text-anchor="middle">5%</text>
<rect x="350.05" y="522.77" width="6.9" height="41.33" fill="#8f9cc4"/>
<line x1="353.5" y1="505.43" x2="353.5" y2="540.12" stroke="#1c3f7c" stroke-width="0.9" opacity="0.85"/>
<line x1="351.9" y1="505.43" x2="355.1" y2="505.43" stroke="#1c3f7c" stroke-width="0.9" opacity="0.85"/>
<line x1="351.9" y1="540.12" x2="355.1" y2="540.12" stroke="#1c3f7c" stroke-width="0.9" opacity="0.85"/>
<circle cx="353.5" cy="490.12" r="1.9" fill="#1c3f7c"/>
<circle cx="353.5" cy="532.53" r="1.9" fill="#1c3f7c"/>
<circle cx="353.5" cy="545.94" r="1.9" fill="#1c3f7c"/>
<rect x="360.05" y="532.94" width="6.9" height="31.16" fill="#f09589"/>
<line x1="363.5" y1="518.84" x2="363.5" y2="547.03" stroke="#c8102e" stroke-width="0.9" opacity="0.85"/>
<line x1="361.9" y1="518.84" x2="365.1" y2="518.84" stroke="#c8102e" stroke-width="0.9" opacity="0.85"/>
<line x1="361.9" y1="547.03" x2="365.1" y2="547.03" stroke="#c8102e" stroke-width="0.9" opacity="0.85"/>
<rect x="361.6" y="490.66" width="3.8" height="3.8" fill="#c8102e"/>
<rect x="360.4" y="542.15" width="3.8" height="3.8" fill="#c8102e"/>
<rect x="363.2" y="544.59" width="3.8" height="3.8" fill="#c8102e"/>
<rect x="370.15" y="534.97" width="6.9" height="29.13" fill="#b0dba0"/>
<line x1="373.6" y1="528.87" x2="373.6" y2="541.07" stroke="#3cae3c" stroke-width="0.9" opacity="0.85"/>
<line x1="372" y1="528.87" x2="375.2" y2="528.87" stroke="#3cae3c" stroke-width="0.9" opacity="0.85"/>
<line x1="372" y1="541.07" x2="375.2" y2="541.07" stroke="#3cae3c" stroke-width="0.9" opacity="0.85"/>
<polygon points="371.6,515.6 375.6,515.6 373.6,512.1" fill="#3cae3c"/>
<polygon points="371.6,524.95 375.6,524.95 373.6,521.45" fill="#3cae3c"/>
<polygon points="371.6,534.44 375.6,534.44 373.6,530.94" fill="#3cae3c"/>
<polygon points="371.6,543.92 375.6,543.92 373.6,540.42" fill="#3cae3c"/>
<polygon points="372.8,547.99 376.8,547.99 374.8,544.49" fill="#3cae3c"/>
<polygon points="371.6,555.44 375.6,555.44 373.6,551.94" fill="#3cae3c"/>
<line x1="401.2" y1="564.1" x2="401.2" y2="566.7" stroke="#222" stroke-width="0.9"/>
<text x="401.2" y="577.9" font-size="8.2" fill="#333" stroke="#333" stroke-width="0.18" text-anchor="middle">10%</text>
<rect x="387.75" y="533.75" width="6.9" height="30.35" fill="#8f9cc4"/>
<line x1="391.2" y1="530.9" x2="391.2" y2="536.59" stroke="#1c3f7c" stroke-width="0.9" opacity="0.85"/>
<line x1="389.6" y1="530.9" x2="392.8" y2="530.9" stroke="#1c3f7c" stroke-width="0.9" opacity="0.85"/>
<line x1="389.6" y1="536.59" x2="392.8" y2="536.59" stroke="#1c3f7c" stroke-width="0.9" opacity="0.85"/>
<circle cx="391.2" cy="530.63" r="1.9" fill="#1c3f7c"/>
<circle cx="391.2" cy="535.1" r="1.9" fill="#1c3f7c"/>
<rect x="397.75" y="545.13" width="6.9" height="18.97" fill="#f09589"/>
<line x1="401.2" y1="542.42" x2="401.2" y2="547.84" stroke="#c8102e" stroke-width="0.9" opacity="0.85"/>
<line x1="399.6" y1="542.42" x2="402.8" y2="542.42" stroke="#c8102e" stroke-width="0.9" opacity="0.85"/>
<line x1="399.6" y1="547.84" x2="402.8" y2="547.84" stroke="#c8102e" stroke-width="0.9" opacity="0.85"/>
<rect x="397.8" y="541.2" width="3.8" height="3.8" fill="#c8102e"/>
<rect x="401.1" y="543.91" width="3.8" height="3.8" fill="#c8102e"/>
<rect x="397.8" y="547.84" width="3.8" height="3.8" fill="#c8102e"/>
<rect x="407.85" y="537.95" width="6.9" height="26.15" fill="#b0dba0"/>
<line x1="411.3" y1="531.04" x2="411.3" y2="544.86" stroke="#3cae3c" stroke-width="0.9" opacity="0.85"/>
<line x1="409.7" y1="531.04" x2="412.9" y2="531.04" stroke="#3cae3c" stroke-width="0.9" opacity="0.85"/>
<line x1="409.7" y1="544.86" x2="412.9" y2="544.86" stroke="#3cae3c" stroke-width="0.9" opacity="0.85"/>
<polygon points="409.3,518.72 413.3,518.72 411.3,515.22" fill="#3cae3c"/>
<polygon points="409.3,527.66 413.3,527.66 411.3,524.16" fill="#3cae3c"/>
<polygon points="409.3,547.99 413.3,547.99 411.3,544.49" fill="#3cae3c"/>
<polygon points="409.3,550.7 413.3,550.7 411.3,547.2" fill="#3cae3c"/>
<polygon points="409.3,553.95 413.3,553.95 411.3,550.45" fill="#3cae3c"/>
<line x1="438.8" y1="564.1" x2="438.8" y2="566.7" stroke="#222" stroke-width="0.9"/>
<text x="438.8" y="577.9" font-size="8.2" fill="#333" stroke="#333" stroke-width="0.18" text-anchor="middle">21%</text>
<rect x="425.35" y="517.35" width="6.9" height="46.75" fill="#8f9cc4"/>
<line x1="428.8" y1="497.71" x2="428.8" y2="537" stroke="#1c3f7c" stroke-width="0.9" opacity="0.85"/>
<line x1="427.2" y1="497.71" x2="430.4" y2="497.71" stroke="#1c3f7c" stroke-width="0.9" opacity="0.85"/>
<line x1="427.2" y1="537" x2="430.4" y2="537" stroke="#1c3f7c" stroke-width="0.9" opacity="0.85"/>
<circle cx="428.8" cy="477.38" r="1.9" fill="#1c3f7c"/>
<circle cx="428.8" cy="530.63" r="1.9" fill="#1c3f7c"/>
<circle cx="428.8" cy="543.1" r="1.9" fill="#1c3f7c"/>
<rect x="435.35" y="528.19" width="6.9" height="35.91" fill="#f09589"/>
<line x1="438.8" y1="511.25" x2="438.8" y2="545.13" stroke="#c8102e" stroke-width="0.9" opacity="0.85"/>
<line x1="437.2" y1="511.25" x2="440.4" y2="511.25" stroke="#c8102e" stroke-width="0.9" opacity="0.85"/>
<line x1="437.2" y1="545.13" x2="440.4" y2="545.13" stroke="#c8102e" stroke-width="0.9" opacity="0.85"/>
<rect x="436.9" y="475.48" width="3.8" height="3.8" fill="#c8102e"/>
<rect x="435.1" y="542.55" width="3.8" height="3.8" fill="#c8102e"/>
<rect x="438.7" y="542.55" width="3.8" height="3.8" fill="#c8102e"/>
<rect x="445.45" y="524.81" width="6.9" height="39.3" fill="#b0dba0"/>
<line x1="448.9" y1="516.68" x2="448.9" y2="532.94" stroke="#3cae3c" stroke-width="0.9" opacity="0.85"/>
<line x1="447.3" y1="516.68" x2="450.5" y2="516.68" stroke="#3cae3c" stroke-width="0.9" opacity="0.85"/>
<line x1="447.3" y1="532.94" x2="450.5" y2="532.94" stroke="#3cae3c" stroke-width="0.9" opacity="0.85"/>
<polygon points="446.9,481.59 450.9,481.59 448.9,478.09" fill="#3cae3c"/>
<polygon points="446.9,515.47 450.9,515.47 448.9,511.97" fill="#3cae3c"/>
<polygon points="446.9,522.24 450.9,522.24 448.9,518.74" fill="#3cae3c"/>
<polygon points="446.9,541.21 450.9,541.21 448.9,537.71" fill="#3cae3c"/>
<polygon points="445.4,547.99 449.4,547.99 447.4,544.49" fill="#3cae3c"/>
<polygon points="448.4,547.99 452.4,547.99 450.4,544.49" fill="#3cae3c"/>
<circle cx="326" cy="457.8" r="2.1" fill="#1c3f7c"/>
<text x="331.1" y="460.3" font-size="7.7" fill="#2a2a2a" stroke="#2a2a2a" stroke-width="0.15" textLength="10.1" lengthAdjust="spacingAndGlyphs">AA</text>
<rect x="323.9" y="467.4" width="4.2" height="4.2" fill="#c8102e"/>
<text x="331.1" y="472" font-size="7.7" fill="#2a2a2a" stroke="#2a2a2a" stroke-width="0.15" textLength="10.1" lengthAdjust="spacingAndGlyphs">AS</text>
<polygon points="323.9,483.27 328.1,483.27 326,479.6" fill="#3cae3c"/>
<text x="331.1" y="483.8" font-size="7.7" fill="#2a2a2a" stroke="#2a2a2a" stroke-width="0.15" textLength="10.3" lengthAdjust="spacingAndGlyphs">SS</text>
<text x="408" y="458.1" font-size="7.8" fill="#2a2a2a" stroke="#2a2a2a" stroke-width="0.1" text-anchor="middle">ns</text>
<text x="389.1" y="467.2" font-size="7.8" fill="#2a2a2a" stroke="#2a2a2a" stroke-width="0.1" textLength="38.3" lengthAdjust="spacingAndGlyphs"><tspan font-style="italic">P</tspan> = 0.4512</text>
<text transform="translate(291.4,509.7) rotate(-90)" x="0" y="0" font-size="9.4" fill="#1a1a1a" stroke="#1a1a1a" stroke-width="0.4" text-anchor="middle" textLength="60.4" lengthAdjust="spacingAndGlyphs">Percentage invasion</text>
<text x="342.8" y="591.6" font-size="9.8" fill="#1a1a1a" stroke="#1a1a1a" stroke-width="0.4" textLength="78.9" lengthAdjust="spacingAndGlyphs">Oxygen concentration (%)</text>
</svg>
</body></html>
